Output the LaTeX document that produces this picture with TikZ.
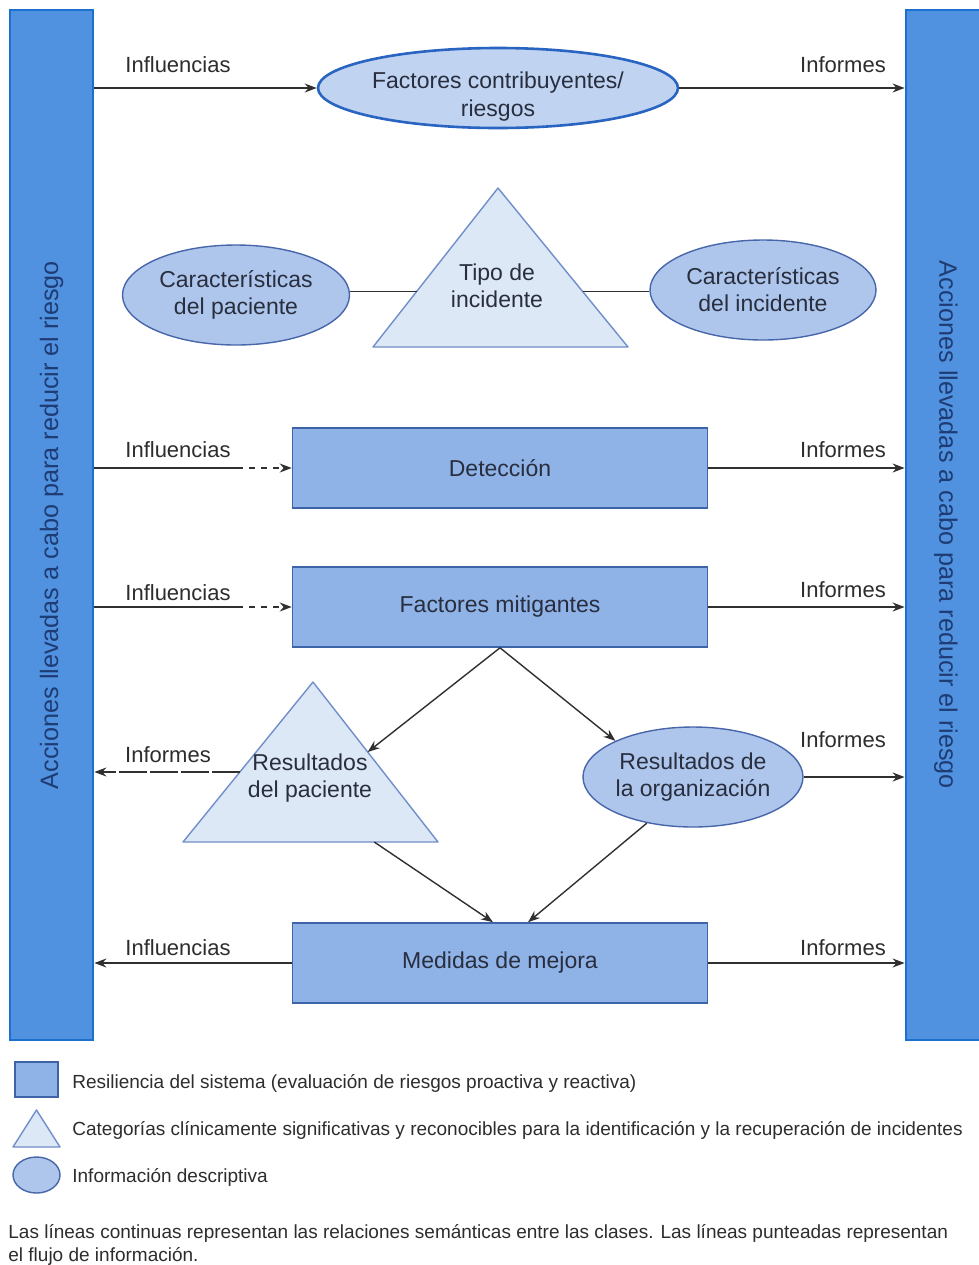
\documentclass[tikz,border=0pt]{standalone}
\usepackage{fontspec}
\setmainfont{Liberation Sans}
\usepackage{xcolor}
\usetikzlibrary{shapes,arrows,positioning,calc,shapes.geometric,arrows.meta}

\definecolor{barfill}{RGB}{80,146,224}
\definecolor{barline}{RGB}{28,112,206}
\definecolor{bartext}{RGB}{30,60,115}
\definecolor{rectfill}{RGB}{143,178,231}
\definecolor{rectline}{RGB}{62,100,168}
\definecolor{ellfill}{RGB}{174,198,236}
\definecolor{ellline}{RGB}{72,102,170}
\definecolor{topfill}{RGB}{192,212,242}
\definecolor{topline}{RGB}{40,100,192}
\definecolor{trifill}{RGB}{221,232,246}
\definecolor{triline}{RGB}{112,142,202}
\definecolor{shapetext}{RGB}{40,46,62}
\definecolor{arrowgray}{RGB}{48,48,48}
\definecolor{labelgray}{RGB}{45,45,45}

\begin{document}
\begin{tikzpicture}[x=0.5pt, y=-0.5pt,
    shapefont/.style={font=\fontsize{11.5}{13.5}\selectfont, text=shapetext},
    resil/.style={draw=rectline, fill=rectfill, line width=0.8pt, minimum width=207.5pt, minimum height=40pt, shapefont},
    descr/.style={ellipse, draw=ellline, fill=ellfill, line width=0.7pt, inner sep=0pt, align=center, shapefont},
    catshape/.style={draw=triline, fill=trifill, line width=0.7pt, line join=round},
    tritext/.style={align=center, shapefont},
    sidebar/.style={draw=barline, fill=barfill, line width=1.4pt, minimum width=515pt, text=bartext, font=\fontsize{12.6}{14}\selectfont},
    flow/.style={-{Stealth[length=6pt,width=4.5pt]}, draw=arrowgray, line width=0.7pt},
    rel/.style={draw=arrowgray, line width=0.7pt},
    lbl/.style={font=\fontsize{11}{13}\selectfont, text=labelgray},
    legtext/.style={anchor=west, inner sep=0pt, font=\fontsize{9.5}{11.5}\selectfont, text=labelgray}
]
\fill[white] (0,0) rectangle (979,1265);
\useasboundingbox (0,0) rectangle (979,1265);

% side bars (rotated, so .south is the inner edge)
\node[sidebar, rotate=90, minimum height=41.5pt] (lbar) at (51.5,525) {Acciones llevadas a cabo para reducir el riesgo};
\node[sidebar, rotate=-90, minimum height=40pt] (rbar) at (946,525) {Acciones llevadas a cabo para reducir el riesgo};

% top row
\node[descr, fill=topfill, draw=topline, line width=1.3pt, minimum width=180pt, minimum height=40pt] (riesgo) at (498,88) {\raisebox{-14pt}[0pt][0pt]{\shortstack{Factores contribuyentes/\\riesgos}}};
\draw[flow] (riesgo.west -| lbar.south) -- (riesgo.west);
\draw[flow] (riesgo.east) -- (riesgo.east -| rbar.south);
\node[lbl] (infl1) at (178,65) {Influencias};
\node[lbl] (inf1) at (843,65) {Informes};

% incident type with its characteristics
\coordinate (tipoA) at (498,188);
\coordinate (tipoL) at (373,347);
\coordinate (tipoR) at (628,347);
\draw[catshape] (tipoA) -- (tipoL) -- (tipoR) -- cycle;
\node[tritext] (tipo) at (497,286) {Tipo de\\incidente};
\node[descr, minimum width=113.5pt, minimum height=50pt] (cpac) at (236,295) {Características\\del paciente};
\node[descr, minimum width=113pt, minimum height=50pt] (cinc) at (763,290) {Características\\del incidente};
\coordinate (tipoW) at ($(tipoL)!0.35!(tipoA)$);
\coordinate (tipoE) at ($(tipoR)!0.35!(tipoA)$);
\draw[rel] (tipoW -| cpac.east) -- (tipoW);
\draw[rel] (tipoE) -- (tipoE -| cinc.west);

% detection
\node[resil] (detec) at (500,468) {Detección};
\draw[rel] (detec.west -| lbar.south) -- ++(143,0) coordinate (d1);
\draw[flow, dashed] (d1) -- (detec.west);
\draw[flow] (detec.east) -- (detec.east -| rbar.south);
\node[lbl] (infl2) at (178,450) {Influencias};
\node[lbl] (inf2) at (843,450) {Informes};

% mitigating factors
\node[resil] (mitig) at (500,607) {Factores mitigantes};
\draw[rel] (mitig.west -| lbar.south) -- ++(143,0) coordinate (m1);
\draw[flow, dashed] (m1) -- (mitig.west);
\draw[flow] (mitig.east) -- (mitig.east -| rbar.south);
\node[lbl] (infl3) at (178,593) {Influencias};
\node[lbl] (inf3) at (843,590) {Informes};

% outcomes
\coordinate (rpA) at (313,682);
\coordinate (rpL) at (183,842);
\coordinate (rpB) at (438,842);
\draw[catshape] (rpA) -- (rpL) -- (rpB) -- cycle;
\node[tritext] (rpac) at (310,778) {Resultados\\del paciente};
\node[descr, minimum width=110pt, minimum height=50pt] (rorg) at (693,777) {Resultados de\\la organización};
\coordinate (rpR) at ($(rpB)!0.5625!(rpA)$);
\coordinate (rpW) at ($(rpL)!0.4375!(rpA)$);
\coordinate (rpS) at ($(rpL)!0.75!(rpB)$);
\draw[flow] (mitig.south) -- (rpR);
\draw[flow] (mitig.south) -- (rorg.155);
\draw[flow, dash pattern=on 14pt off 1.5pt] (rpW) -- (rpW -| lbar.south);
\draw[flow] (rorg.east) -- (rorg.east -| rbar.south);
\node[lbl] (inf4) at (168,755) {Informes};
\node[lbl] (inf5) at (843,740) {Informes};

% improvement measures
\node[resil] (mejora) at (500,963) {Medidas de mejora};
\draw[flow] (rpS) -- ($(mejora.north)+(-7,0)$);
\draw[flow] (rorg.225) -- ($(mejora.north)+(28,0)$);
\draw[flow] (mejora.west) -- (mejora.west -| lbar.south);
\draw[flow] (mejora.east) -- (mejora.east -| rbar.south);
\node[lbl] (infl4) at (178,948) {Influencias};
\node[lbl] (inf6) at (843,948) {Informes};

% legend
\node[resil, minimum width=21.5pt, minimum height=17.5pt] (legbox) at (36.5,1079.5) {};
\node[legtext] (legboxtxt) at (72,1083) {Resiliencia del sistema (evaluación de riesgos proactiva y reactiva)};
\draw[catshape] (36.5,1110) -- (13,1147) -- (60,1147) -- cycle;
\node[legtext] (legtritxt) at (72,1130) {Categorías clínicamente significativas y reconocibles para la identificación y la recuperación de incidentes};
\node[descr, minimum width=23.5pt, minimum height=18pt] (legell) at (36.5,1175) {};
\node[legtext] (legelltxt) at (72,1177) {Información descriptiva};

\node[legtext, anchor=north west, align=left] (nota) at (8,1224) {Las líneas continuas representan las relaciones semánticas entre las clases. Las líneas punteadas representan\\el flujo de información.};
\end{tikzpicture}
\end{document}
